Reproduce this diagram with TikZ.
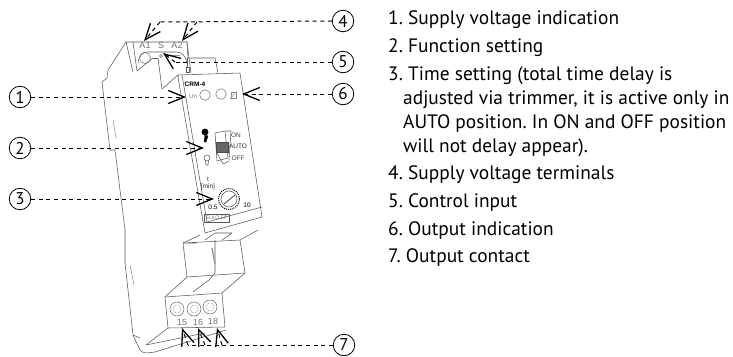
\documentclass[tikz,border=0pt]{standalone}
\usepackage{fontspec}
\setmainfont{PT Sans}
\newfontfamily\helv{Liberation Sans}
\usetikzlibrary{arrows.meta}
\tikzset{
  x=1pt,y=-1pt,
  part/.style={draw=black!65,line width=0.55pt,line join=round},
  faint/.style={draw=black!45,line width=0.5pt},
  callout/.style={circle,draw=black,line width=0.8pt,minimum size=21.5pt,inner sep=0pt,font=\fontsize{17}{17}\selectfont},
  lead/.style={draw=black,line width=1pt,dash pattern=on 4pt off 3.6pt,-{Straight Barb[length=16pt,width=13pt,line width=1.3pt]}},
  leadplain/.style={draw=black,line width=1pt,dash pattern=on 4pt off 3.6pt},
  listitem/.style={anchor=base west,inner sep=0pt,font=\frenchspacing\fontsize{19.4}{19.4}\selectfont},
  devlabel/.style={inner sep=0pt,text=black!55,font=\helv\fontsize{9}{9}\selectfont},
  screw/.style={circle,draw=black!60,line width=0.5pt,minimum size=14pt,inner sep=0pt},
}
\begin{document}
\begin{tikzpicture}
\useasboundingbox (0,0) rectangle (733,356);
% rail body
\draw[part] (133,72) -- (126,42) -- (187,42) -- (191,73);
\draw[part] (126,42) -- (108,70) -- (107,78) -- (102,82) -- (110,150) -- (115,150) -- (125,230) -- (125,263) -- (133,335) -- (140,338);
\draw[part] (133,335) -- (140,350) .. controls (143,354) and (148,353) .. (155,352) -- (226,330);
\draw[part] (146,345) -- (168,328);
\draw[part] (146,345) -- (205,333);
\draw[faint] (113,120) -- (116,138);
\draw[faint] (130,265) -- (134,285);
% top block
\draw[part] (133,42) -- (137,71) -- (153,58);
\draw[part] (158,58) -- (162,89) -- (178,75);
\draw[part] (153,58) -- (158,58);
\draw[part] (138,63) .. controls (139,55) and (142,52) .. (148,52) -- (176,52) .. controls (182,52) and (186,56) .. (187,63);
\draw[part] (187,42) -- (188,58) -- (215,58) -- (218,73);
\node[screw,minimum size=11pt] (screwA) at (145,58) {};
\node[screw,minimum size=3pt] (screwB) at (161,56) {};
\draw[faint] (165,55) -- (180,55);
\draw[part] (187,58) -- (187,67);
\draw[part] (186,67) rectangle (189,72);
\node[devlabel] (lA1) at (145,45) {A1};
\node[devlabel] (lS) at (161,45) {S};
\node[devlabel] (lA2) at (177,45) {A2};
% front panel
\draw[part] (178,75) -- (240,73) -- (262,217) -- (205,233) -- (178,77) -- cycle;
\draw[part] (182,75) -- (207,222);
\draw[part] (207,222) -- (262,207);
\node[font=\helv\bfseries\fontsize{6.5}{6.5}\selectfont,inner sep=0pt] (lname) at (195,84) {CRM-4};
\node[devlabel,font=\helv\fontsize{6}{6}\selectfont] (lUn) at (193,96) {Un};
\node[screw,minimum size=10.5pt] (ledA) at (205,95) {};
\node[screw,minimum size=10.5pt] (ledB) at (221,94) {};
\draw[faint] (231,92) rectangle (236,98);
\draw[faint] (230,99) -- (237,91);
% function switch
\draw[fill=black] (205,132) circle (3.2) ;
\draw[fill=black] (205,135) -- (208,136) -- (206,142) -- (204,142) -- cycle;
\draw[part] (207,158) circle (3);
\draw[part] (205.5,161) -- (206,165) -- (208,165) -- (208.5,161);
\draw[part] (215,133) -- (225,131) -- (228,158) -- (217,161) -- cycle;
\draw[part] (226,131) -- (231,131) -- (229,160) ;
\draw[part] (217,153) -- (223,164) -- (229,161);
\draw[fill=black!60,draw=black!70] (216,142) rectangle (228,152);
\node[devlabel,text=black!75,font=\helv\fontsize{6.5}{6.5}\selectfont] (lOn) at (236,135) {ON};
\node[devlabel,text=black!85,font=\helv\fontsize{6.5}{6.5}\selectfont] (lAuto) at (238,146) {AUTO};
\node[devlabel,text=black!75,font=\helv\fontsize{6.5}{6.5}\selectfont] (lOff) at (238,158) {OFF};
% time setting
\node[inner sep=0pt,text=black!80,font=\helv\fontsize{6.5}{6.5}\selectfont] (lt) at (208,179) {t};
\node[inner sep=0pt,text=black!80,font=\helv\fontsize{6.5}{6.5}\selectfont] (lmin) at (208,187) {[min]};
\node[circle,draw=black,densely dotted,line width=1pt,minimum size=21pt,inner sep=0pt] (dialrim) at (229,199) {};
\node[circle,draw=black!70,line width=0.5pt,minimum size=16pt,inner sep=0pt] (dial) at (229,199) {};
\draw[black!80,line width=0.7pt] (224,204) -- (235,195);
\node[inner sep=0pt,font=\helv\fontsize{6.5}{6.5}\selectfont] (l05) at (213,207) {0.5};
\node[inner sep=0pt,font=\helv\fontsize{6.5}{6.5}\selectfont] (l10) at (247,205) {10};
\draw[part] (204,214) rectangle (229,222);
\node[devlabel,font=\helv\fontsize{5}{5}\selectfont] (lbrand) at (216.5,218) {ELKO EP};
% lower block
\draw[part] (196,243) -- (183,243) -- (187,277) -- (245,273) -- (240,240) -- (183,243);
\draw[part] (183,243) -- (200,235);
\draw[part] (240,240) -- (258,230);
\draw[part] (205,240) -- (215,233) -- (232,233) -- (222,240);
\draw[part] (215,240) -- (215,273) -- (209,280) -- (193,292);
\draw[faint,line width=1.2pt] (212,248) -- (215,264);
\draw[part] (187,277) -- (165,297) -- (168,328) -- (225,327) -- (222,293) -- (245,273);
\draw[part] (165,297) -- (222,293);
\node[screw] (s15) at (177,309) {};
\node[screw] (s16) at (194,309) {};
\node[screw] (s18) at (210,307) {};
\node[screw,minimum size=8pt,densely dotted] (s15i) at (177,309) {};
\node[screw,minimum size=8pt,densely dotted] (s16i) at (194,309) {};
\node[screw,minimum size=8pt,densely dotted] (s18i) at (210,307) {};
\node[devlabel] (l15) at (182,322) {15};
\node[devlabel] (l16) at (198,322) {16};
\node[devlabel] (l18) at (213,321) {18};
% callouts
\node[callout] (c1) at (20,97) {1};
\node[callout] (c2) at (20,148) {2};
\node[callout] (c3) at (20,199) {3};
\node[callout] (c4) at (343,21) {4};
\node[callout] (c5) at (343,62) {5};
\node[callout] (c6) at (343,94) {6};
\node[callout] (c7) at (344,345) {7};
% targets
\coordinate (t1) at (186,97);
\coordinate (t2) at (204,148);
\coordinate (t3) at (214,199);
\coordinate (b4a) at (160,22);
\coordinate (b4b) at (197,22);
\coordinate (t4a) at (144,41);
\coordinate (t4b) at (182,41);
\coordinate (b5) at (175,62);
\coordinate (t5) at (163,53);
\coordinate (t6) at (242,94);
\coordinate (b7a) at (188,345);
\coordinate (b7b) at (205,345);
\coordinate (b7c) at (222,345);
\coordinate (t7a) at (182,328);
\coordinate (t7b) at (198,328);
\coordinate (t7c) at (217,328);
% leaders
\draw[lead] (c1) -- (t1);
\draw[lead] (c2) -- (t2);
\draw[lead] (c3) -- (t3);
\draw[leadplain] (c4) -- (b4a);
\draw[lead] (b4a) -- (t4a);
\draw[lead] (b4b) -- (t4b);
\draw[leadplain] (c5) -- (b5);
\draw[lead] (b5) -- (t5);
\draw[lead] (c6) -- (t6);
\draw[leadplain] (c7) -- (b7a);
\draw[lead] (b7a) -- (t7a);
\draw[lead] (b7b) -- (t7b);
\draw[lead] (b7c) -- (t7c);
% list
\node[listitem] (i1) at (388,24) {1. Supply voltage indication};
\node[listitem] (i2) at (388,52) {2. Function setting};
\node[listitem] (i3) at (388,80) {3. Time setting (total time delay is};
\node[listitem] (i3b) at (403,104) {adjusted via trimmer, it is active only in};
\node[listitem] (i3c) at (403,128) {AUTO position. In ON and OFF position};
\node[listitem] (i3d) at (403,152) {will not delay appear).};
\node[listitem] (i4) at (388,179) {4. Supply voltage terminals};
\node[listitem] (i5) at (388,207) {5. Control input};
\node[listitem] (i6) at (388,235) {6. Output indication};
\node[listitem] (i7) at (388,262) {7. Output contact};
\end{tikzpicture}
\end{document}
